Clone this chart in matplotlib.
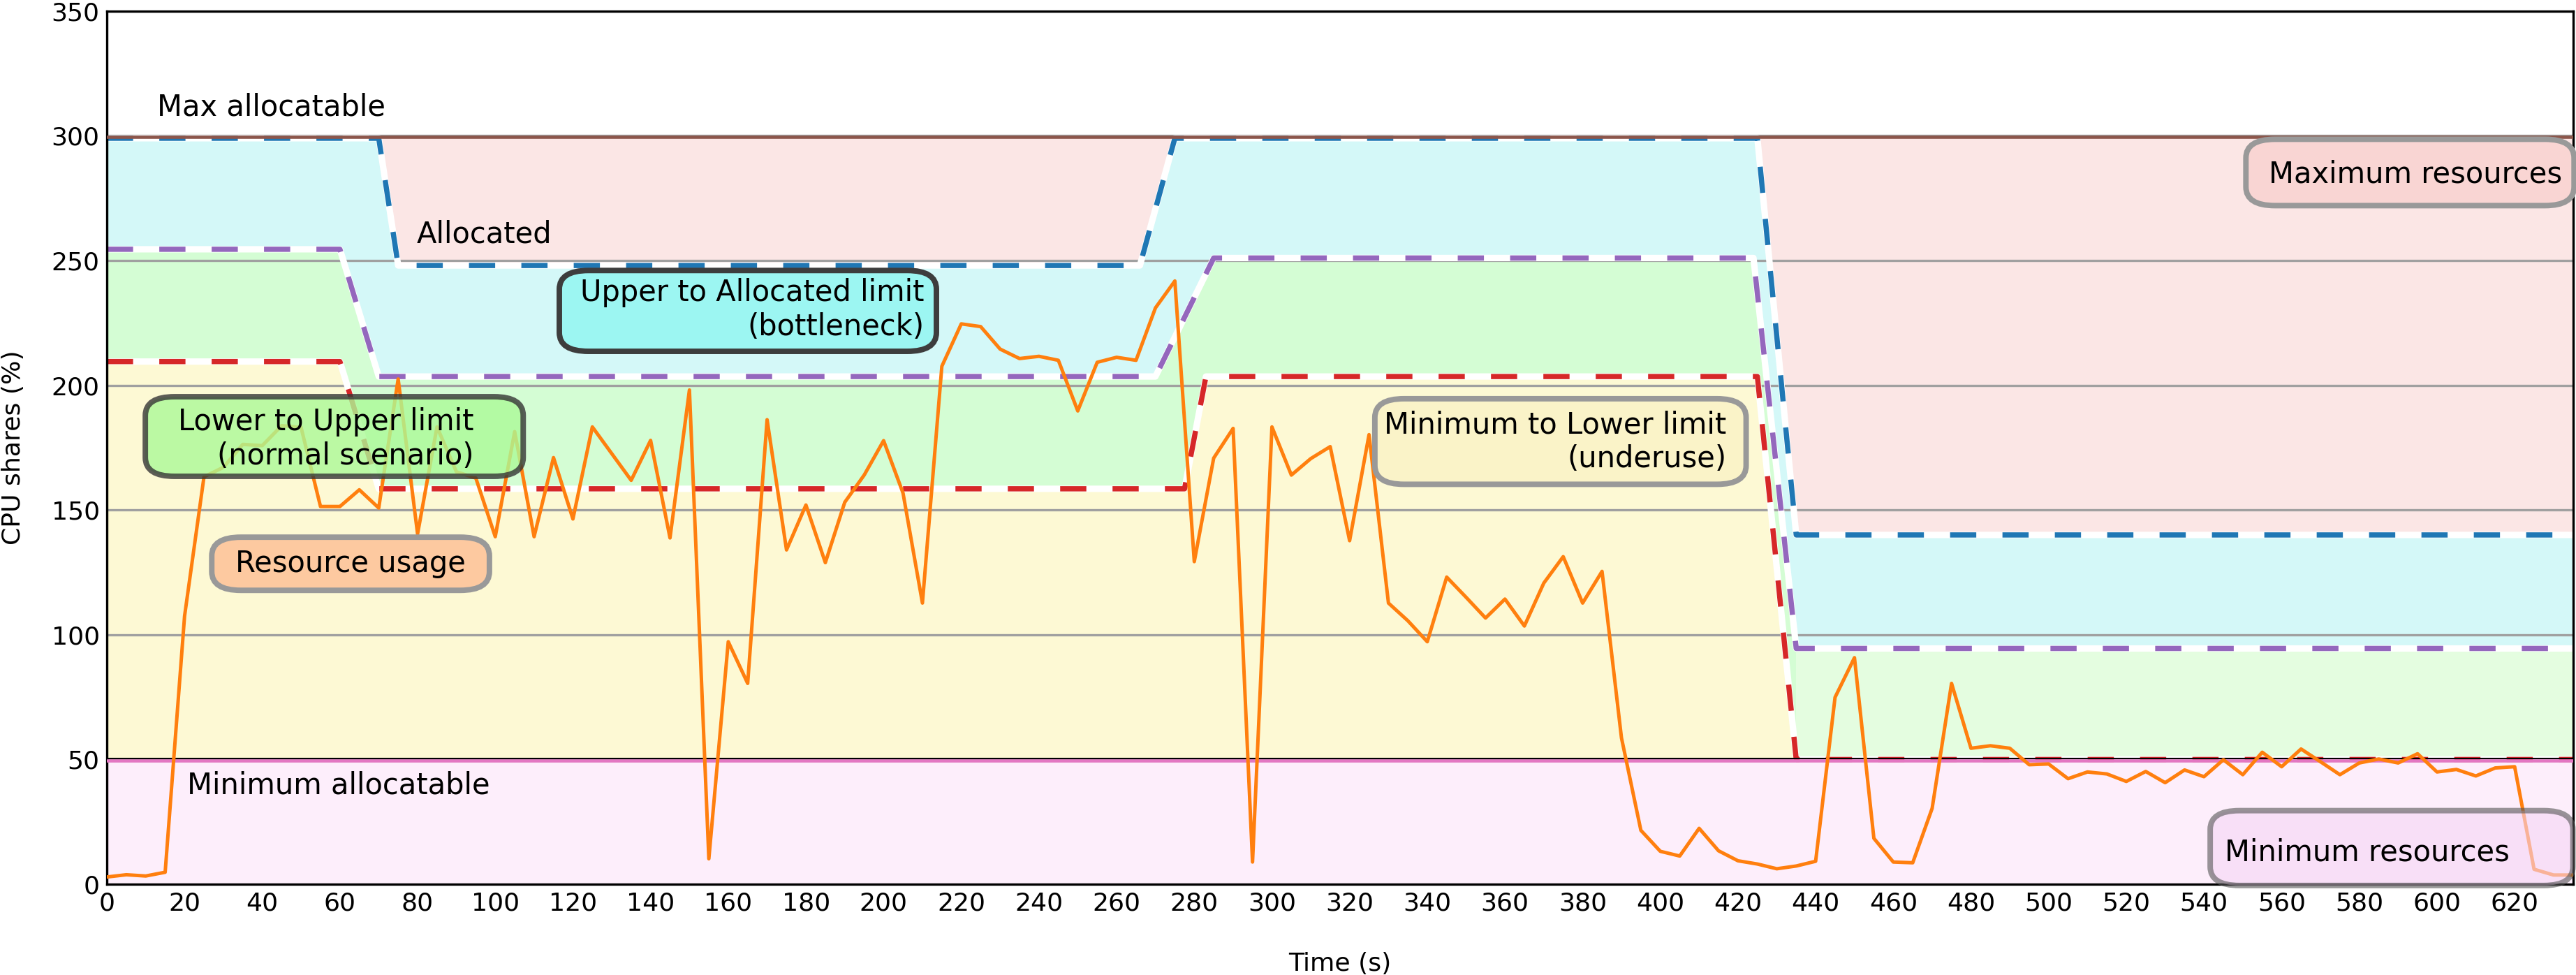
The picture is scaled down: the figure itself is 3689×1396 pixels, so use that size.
import matplotlib.pyplot as plt
import numpy as np
from matplotlib.patches import FancyBboxPatch

plt.rcParams['font.family'] = 'DejaVu Sans'

# CPU usage of the container, one sample every 5 s
time_s = list(range(0, 640, 5))
usage = [2.9, 3.8, 3.3, 4.8, 107.5, 163.3, 167.1, 176.3, 175.8, 183.8,
         183.1, 151.4, 151.4, 158.1, 150.8, 202.5, 140.4, 183.3, 165.3, 162.8,
         139.3, 181.4, 139.3, 171.0, 146.4, 183.3, 172.6, 161.9, 177.9, 138.8,
         198.1, 10.2, 97.2, 80.5, 186.2, 134.0, 152.0, 128.9, 153.1, 164.0,
         177.8, 156.8, 112.7, 207.6, 224.6, 223.5, 214.5, 210.7, 211.6, 210.0,
         189.7, 209.2, 211.2, 210.0, 231.0, 241.8, 129.3, 170.8, 182.7, 8.9,
         183.3, 164.0, 170.6, 175.4, 137.7, 180.2, 112.7, 105.6, 97.2, 123.1,
         115.0, 106.7, 114.3, 103.5, 120.7, 131.3, 112.7, 125.4, 58.7, 21.6,
         13.2, 11.3, 22.4, 13.4, 9.4, 8.1, 6.2, 7.3, 9.2, 74.9,
         90.8, 18.4, 8.9, 8.6, 30.4, 80.5, 54.5, 55.5, 54.5, 47.9,
         48.2, 42.3, 45.0, 44.2, 41.2, 45.2, 40.7, 45.8, 43.1, 49.9,
         43.9, 52.9, 47.1, 54.2, 49.1, 43.9, 48.6, 50.2, 48.6, 52.3,
         45.0, 46.0, 43.4, 46.6, 47.1, 6.0, 3.7, 3.7]

# limits set by the scaler: break points (time, value)
alloc_t = [0, 70, 75, 266, 275, 425, 435, 635]
alloc_v = [299, 299, 248, 248, 299, 299, 140, 140]
upper_t = [0, 60, 70, 270, 285, 424, 435, 635]
upper_v = [254.5, 254.5, 203.5, 203.5, 251, 251, 94.5, 94.5]
lower_t = [0, 60, 70, 277.5, 283, 425, 435, 635]
lower_v = [209.5, 209.5, 158.5, 158.5, 203.5, 203.5, 50, 50]

MAX_ALLOC = 300
MIN_ALLOC = 50
T_END = 635

fig = plt.figure(figsize=(3689 / 300, 1396 / 300), dpi=300)
ax = fig.add_axes([0.0415, 0.0931, 0.9573, 0.8956])


def band(t1, v1, t2, v2, color):
    ax.fill(np.r_[t1, t2[::-1]], np.r_[v1, v2[::-1]], color=color, lw=0, zorder=1)


# coloured zones
band(alloc_t, alloc_v, [0, T_END], [MAX_ALLOC, MAX_ALLOC], '#fbe6e5')
band(upper_t, upper_v, alloc_t, alloc_v, '#d4f8f8')
band(upper_t[:7], upper_v[:7], lower_t[:7], lower_v[:7], '#d4fdd4')
band(upper_t[6:], upper_v[6:], lower_t[6:], lower_v[6:], '#e4fde0')
band(lower_t, lower_v, [0, T_END], [MIN_ALLOC, MIN_ALLOC], '#fdf9d4')
ax.axhspan(0, MIN_ALLOC, color='#fdeefb', lw=0, zorder=1)

# limit lines, dashed over a white line
for t, v, c in [(alloc_t, alloc_v, 'tab:blue'),
                (upper_t, upper_v, 'tab:purple'),
                (lower_t, lower_v, 'tab:red')]:
    ax.plot(t, v, color='white', lw=2.2, zorder=2)
    ax.plot(t, v, color=c, lw=1.8, dashes=(5, 5), zorder=2.1)

ax.axhline(MAX_ALLOC - 0.5, color='tab:brown', lw=1.1, zorder=3)
ax.axhline(MIN_ALLOC - 0.5, color='tab:pink', lw=1.1, zorder=3)
ax.axhline(MIN_ALLOC + 0.4, color='black', lw=0.5, zorder=3)

ax.plot(time_s, usage, color='tab:orange', lw=1.2, zorder=4)

# plain labels
ax.text(12.9, 308, 'Max allocatable', fontsize=10, va='baseline')
ax.text(79.7, 257, 'Allocated', fontsize=10, va='baseline')
ax.text(20.7, 36.4, 'Minimum allocatable', fontsize=10, va='baseline')

# boxed labels: text, box (t0, v0, t1, v1), anchor, ha, face, edge, alpha
notes = [
    ('Upper to Allocated limit\n(bottleneck)', (116.5, 213.6, 213.6, 246.0),
     (210.4, 230.2), 'right', '#9cf6f2', '#3d3d3d', 1.0),
    ('Lower to Upper limit\n(normal scenario)', (9.9, 163.5, 107.2, 195.4),
     (94.5, 178.4), 'right', '#abfa97', '#353535', 0.8),
    ('Resource usage', (27.0, 117.8, 98.5, 139.1),
     (62.75, 128.5), 'center', '#fdc9a0', '#999999', 1.0),
    ('Minimum to Lower limit\n(underuse)', (326.5, 160.3, 422.1, 194.6),
     (417.0, 177.2), 'right', '#faf3c8', '#999999', 1.0),
    ('Maximum resources', (550.8, 272.0, 635.3, 298.6),
     (556.7, 284.6), 'left', '#f9d5d3', '#999999', 1.0),
    ('Minimum resources', (541.6, -0.5, 635.0, 29.5),
     (545.3, 12.7), 'left', '#f5d5f5', '#555555', 0.6),
]
for s, (t0, v0, t1, v1), (tx, ty), ha, fc, ec, a in notes:
    box = FancyBboxPatch((t0, v0), t1 - t0, v1 - v0,
                         boxstyle='round,pad=0,rounding_size=7.5',
                         fc=fc, ec=ec, lw=1.9, alpha=a, zorder=5, clip_on=False)
    ax.add_patch(box)
    ax.text(tx, ty, s, ha=ha, va='center', multialignment=ha,
            fontsize=10, zorder=6)

ax.set_xlim(0, T_END)
ax.set_ylim(0, 350)
ax.set_xticks(range(0, 621, 20))
ax.set_yticks(range(0, 351, 50))
ax.yaxis.grid(True, color='#a0a0a0', lw=0.8)
ax.set_axisbelow('line')
ax.tick_params(length=0, labelsize=8.7, pad=2.5)
ax.set_xlabel('Time (s)', fontsize=8.7, labelpad=12.5)
ax.set_ylabel('CPU shares (%)', fontsize=8.7, labelpad=9)

fig.savefig('out.png', dpi=300)
